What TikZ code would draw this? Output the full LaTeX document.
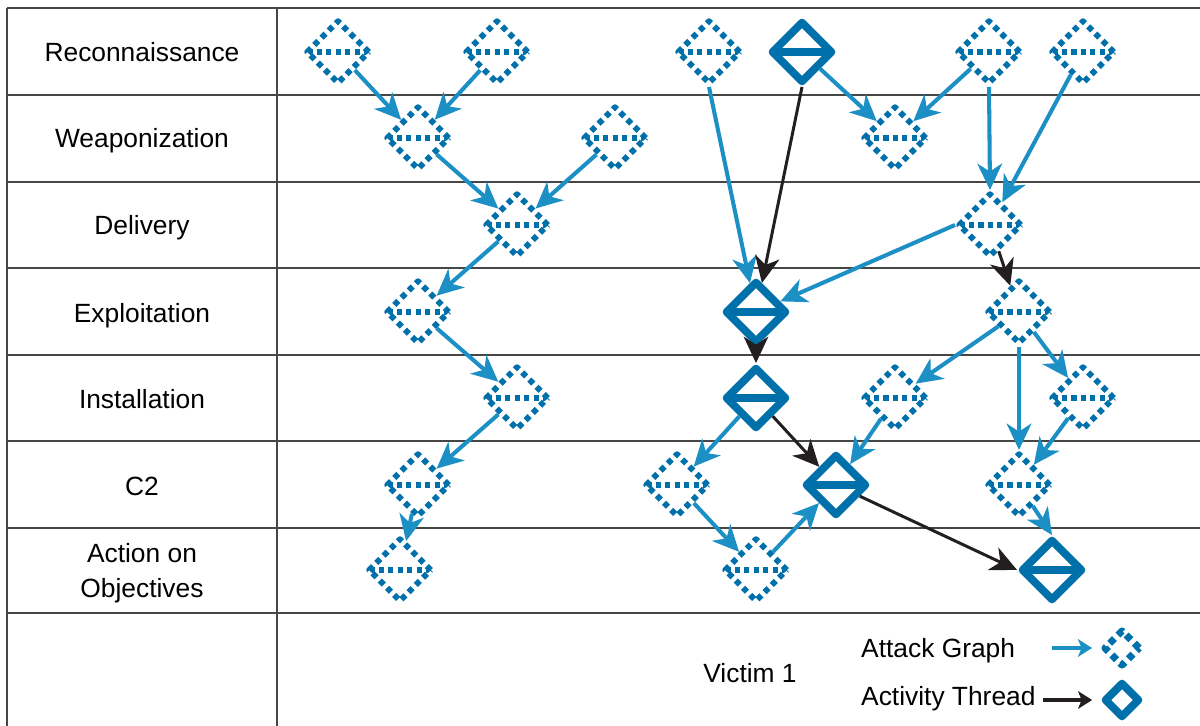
\documentclass[tikz,border=0pt]{standalone}
\usepackage{fontspec}
\setmainfont{Liberation Sans}
\usetikzlibrary{shapes.geometric,arrows.meta}
\definecolor{dblue}{RGB}{0,112,170}
\definecolor{lblue}{RGB}{28,143,197}
\definecolor{tblack}{RGB}{35,31,32}
\definecolor{rule}{RGB}{70,70,70}
\tikzset{
  rule/.style={draw=rule, line width=1pt},
  attack/.style={diamond, draw=dblue, line width=3.4pt, dash pattern=on 3.2pt off 2.6pt,
    minimum width=1.28cm, minimum height=1.28cm, inner sep=0pt,
    path picture={\draw[dblue, line width=3.4pt, dash pattern=on 3pt off 2.4pt]
      (path picture bounding box.west) -- (path picture bounding box.east);}},
  thread/.style={diamond, draw=dblue, line width=4.5pt, solid,
    minimum width=1.24cm, minimum height=1.24cm, inner sep=0pt,
    path picture={\draw[dblue, line width=4.5pt, solid]
      (path picture bounding box.west) -- (path picture bounding box.east);}},
  attack key/.style={diamond, draw=dblue, line width=4pt, dash pattern=on 3.8pt off 2.8pt,
    minimum width=0.74cm, minimum height=0.74cm, inner sep=0pt},
  thread key/.style={diamond, draw=dblue, line width=4.5pt,
    minimum width=0.72cm, minimum height=0.72cm, inner sep=0pt},
  agraph/.style={draw=lblue, line width=2.3pt, -{Stealth[length=15pt, width=14pt, inset=4.5pt]}},
  athread/.style={draw=tblack, line width=1.7pt, -{Stealth[length=15pt, width=14pt, inset=4.5pt]}},
}
\begin{document}
\begin{tikzpicture}[x=0.02cm, y=-0.02cm, font=\fontsize{15}{19.8}\selectfont, line join=round]
\useasboundingbox (0,0) rectangle (1200,726);
\foreach \y in {8,95,182,268,355,441,528,613} \draw[rule] (7,\y) -- (1200,\y);
\draw[rule] (7,8) -- (7,726) (277,8) -- (277,726);
\foreach \t/\y in {Reconnaissance/62,Weaponization/148,Delivery/235,Exploitation/322,Installation/408,C2/495}
  \node[anchor=base] (lab\y) at (142,\y) {\t};
\node[align=center] (lab573) at (142,573) {Action on\\Objectives};

\foreach \n/\x/\y in {a1/338/52,a2/497/52,a3/709/52,a4/989/52,a5/1083/52,
    a6/418/138,a7/615/138,a8/895/138,a9/517/225,a10/990/225,
    a11/418/312,a12/1019/312,a13/517/398,a14/895/398,a15/1083/398,
    a16/418/485,a17/677/485,a18/1019/485,a19/400/570,a20/756/570}
  \node[attack] (\n) at (\x,\y) {};
\foreach \n/\x/\y in {t1/802/52,t2/756/312,t3/756/398,t4/836/485,t5/1052/570}
  \node[thread] (\n) at (\x,\y) {};

\foreach \s/\e in {a1/a6,a2/a6,a6/a9,a7/a9,a9/a11,a11/a13,a13/a16,a16/a19,
    a3.south/t2,t1/a8,a4/a8,a4.south/a10.north,a5/a10,a10.west/t2,
    a12/a14,a12.south/a18.north,a12/a15,a14/t4,a15/a18,a18/t5.north,
    t3/a17,a17/a20,a20/t4}
  \draw[agraph] (\s) -- (\e);
\foreach \s/\e in {t1.south/t2,a10/a12,t2/t3,t3/t4,t4/t5.west}
  \draw[athread] (\s) -- (\e);

\node[anchor=base] (vic) at (750,682) {Victim 1};
\node[anchor=base west] (lga) at (855,657) {Attack Graph};
\node[anchor=base west] (lgt) at (855,705) {Activity Thread};
\node[attack key] (ka) at (1122,648) {};
\node[thread key] (kt) at (1122,700) {};
\coordinate (ga) at (1052,648);
\coordinate (gt) at (1043,700);
\draw[draw=lblue, line width=2.8pt, shorten >=4.5pt, -{Stealth[length=8pt, width=10pt, inset=2pt]}] (ga) -- (ka);
\draw[draw=tblack, line width=2.2pt, shorten >=4.5pt, -{Stealth[length=8pt, width=10pt, inset=2pt]}] (gt) -- (kt);
\end{tikzpicture}
\end{document}
